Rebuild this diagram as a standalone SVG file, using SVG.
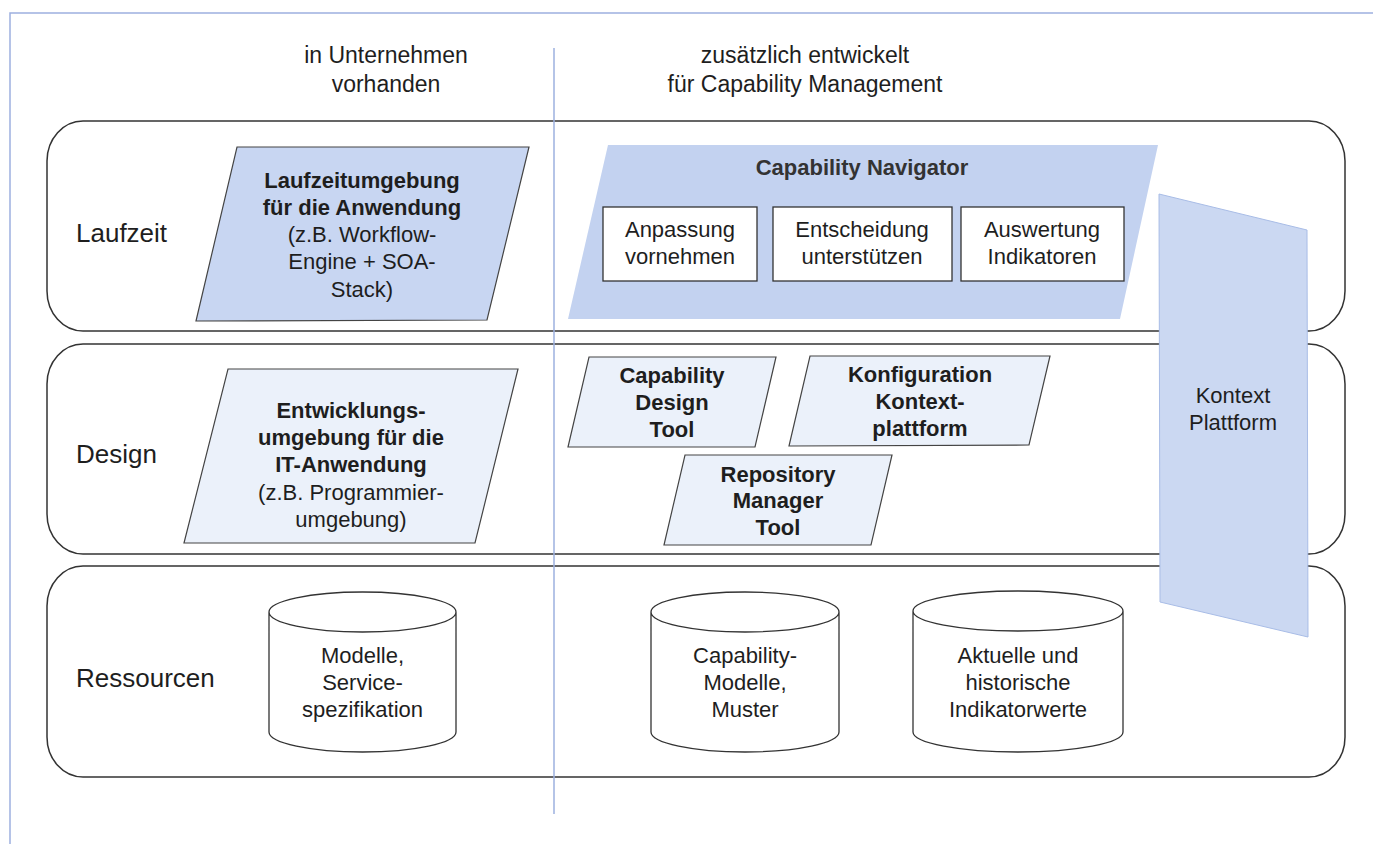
<svg xmlns="http://www.w3.org/2000/svg" width="1373" height="844" viewBox="0 0 1373 844">
<style>
text{font-family:"Liberation Sans",Arial,sans-serif;fill:#1e1e1e;text-anchor:middle}
.hdr{font-size:23px}
.lbl{font-size:26px;text-anchor:start}
.t{font-size:22px}
.b{font-weight:bold}
.row{fill:#fff;stroke:#333;stroke-width:1.5}
.pd{fill:#c8d6f2;stroke:#444;stroke-width:1.2}
.pl{fill:#ebf1fa;stroke:#444;stroke-width:1.2}
.box{fill:#fff;stroke:#333;stroke-width:1.3}
.cyl{fill:#fff;stroke:#333;stroke-width:1.3}
.frame{stroke:#9db0df;stroke-width:1.5;fill:none}
</style>
<rect width="1373" height="844" fill="#fff"/>
<g id="frame">
<path class="frame" d="M10,844 V13 H1373"/>
</g>
<g id="headers">
<text class="hdr" x="386" y="63">in Unternehmen</text>
<text class="hdr" x="386" y="92">vorhanden</text>
<text class="hdr" x="805" y="63">zusätzlich entwickelt</text>
<text class="hdr" x="805" y="92">für Capability Management</text>
</g>
<g id="row-laufzeit">
<rect class="row" x="47" y="121" width="1298" height="210" rx="36" ry="40"/>
<text class="lbl" x="76" y="242">Laufzeit</text>
</g>
<g id="row-design">
<rect class="row" x="47" y="344" width="1298" height="210" rx="36" ry="40"/>
<text class="lbl" x="76" y="463">Design</text>
</g>
<g id="row-ressourcen">
<rect class="row" x="47" y="566" width="1298" height="211" rx="36" ry="40"/>
<text class="lbl" x="76" y="687">Ressourcen</text>
</g>
<g id="divider">
<line class="frame" x1="554" y1="48" x2="554" y2="814" stroke-width="1.2"/>
</g>
<g id="laufzeitumgebung">
<polygon class="pd" points="237,147 529,147 487,320 196,321"/>
<text class="t b" x="362" y="188">Laufzeitumgebung</text>
<text class="t b" x="362" y="215">für die Anwendung</text>
<text class="t" x="362" y="242">(z.B. Workflow-</text>
<text class="t" x="362" y="269">Engine + SOA-</text>
<text class="t" x="362" y="297">Stack)</text>
</g>
<g id="capability-navigator">
<polygon points="608,145 1158,145 1120,319 568,319" fill="#c3d2f0"/>
<text class="t b" x="862" y="175" style="fill:#333">Capability Navigator</text>
</g>
<g id="anpassung">
<rect class="box" x="603" y="207" width="154" height="74"/>
<text class="t" x="680" y="237">Anpassung</text>
<text class="t" x="680" y="264">vornehmen</text>
</g>
<g id="entscheidung">
<rect class="box" x="773" y="207" width="179" height="74"/>
<text class="t" x="862" y="237">Entscheidung</text>
<text class="t" x="862" y="264">unterstützen</text>
</g>
<g id="auswertung">
<rect class="box" x="961" y="207" width="163" height="74"/>
<text class="t" x="1042" y="237">Auswertung</text>
<text class="t" x="1042" y="264">Indikatoren</text>
</g>
<g id="entwicklungsumgebung">
<polygon class="pl" points="228,369 518,369 475,543 184,543"/>
<text class="t b" x="351" y="418">Entwicklungs-</text>
<text class="t b" x="351" y="445">umgebung für die</text>
<text class="t b" x="351" y="472">IT-Anwendung</text>
<text class="t" x="351" y="500">(z.B. Programmier-</text>
<text class="t" x="351" y="527">umgebung)</text>
</g>
<g id="capability-design-tool">
<polygon class="pl" points="589,357 776,357 755,447 568,447"/>
<text class="t b" x="672" y="383">Capability</text>
<text class="t b" x="672" y="410">Design</text>
<text class="t b" x="672" y="437">Tool</text>
</g>
<g id="konfiguration">
<polygon class="pl" points="810,356 1050,356 1029,445 789,446"/>
<text class="t b" x="920" y="382">Konfiguration</text>
<text class="t b" x="920" y="409">Kontext-</text>
<text class="t b" x="920" y="436">plattform</text>
</g>
<g id="repository-manager">
<polygon class="pl" points="685,455 892,455 871,545 664,545"/>
<text class="t b" x="778" y="482">Repository</text>
<text class="t b" x="778" y="508">Manager</text>
<text class="t b" x="778" y="535">Tool</text>
</g>
<g id="modelle">
<path class="cyl" d="M269,612 A93.5,20 0 0 1 456,612 V732 A93.5,20 0 0 1 269,732 Z M269,612 A93.5,20 0 0 0 456,612"/>
<text class="t" x="362.5" y="663">Modelle,</text>
<text class="t" x="362.5" y="690">Service-</text>
<text class="t" x="362.5" y="717">spezifikation</text>
</g>
<g id="capability-modelle">
<path class="cyl" d="M651,612 A94,20 0 0 1 839,612 V732 A94,20 0 0 1 651,732 Z M651,612 A94,20 0 0 0 839,612"/>
<text class="t" x="745" y="663">Capability-</text>
<text class="t" x="745" y="690">Modelle,</text>
<text class="t" x="745" y="717">Muster</text>
</g>
<g id="indikatorwerte">
<path class="cyl" d="M913,611 A105,20 0 0 1 1123,611 V732 A105,20 0 0 1 913,732 Z M913,611 A105,20 0 0 0 1123,611"/>
<text class="t" x="1018" y="663">Aktuelle und</text>
<text class="t" x="1018" y="690">historische</text>
<text class="t" x="1018" y="717">Indikatorwerte</text>
</g>
<g id="kontext-plattform">
<polygon points="1159,194 1307,230 1308,637 1160,602" fill="#cbd8f2" stroke="#a8bce6" stroke-width="1"/>
<text class="t" x="1233" y="403">Kontext</text>
<text class="t" x="1233" y="430">Plattform</text>
</g>
<g id="connectors"></g>
</svg>
